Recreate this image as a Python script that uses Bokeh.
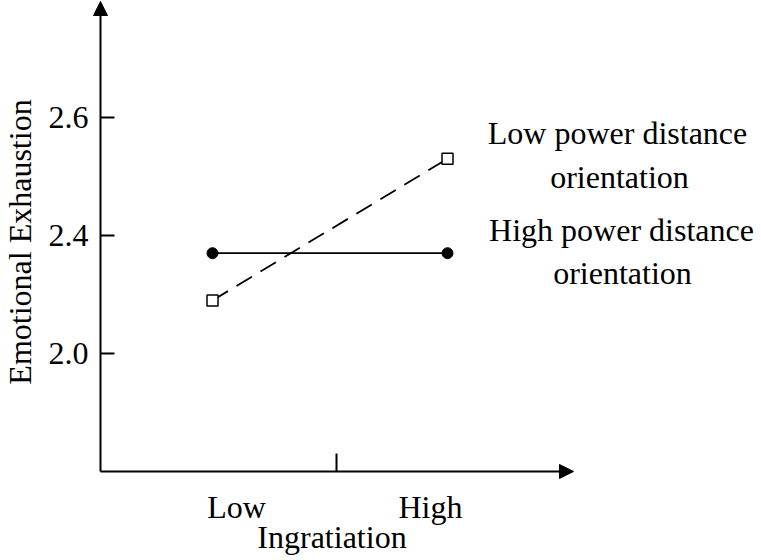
import math
from bokeh.plotting import figure
from bokeh.models import Range1d, FixedTicker, Label, Arrow, NormalHead, CustomJSTickFormatter
from bokeh.embed import file_html
from bokeh.resources import INLINE

# ---- data ----
ingratiation_levels = ["Low", "High"]
x_pos = [0, 1]
low_pd = [2.29, 2.53]     # Low power distance orientation (dashed, open squares)
high_pd = [2.37, 2.37]    # High power distance orientation (solid, filled circles)
y_ticks = [2.2, 2.4, 2.6]
y_tick_labels = ["2.0", "2.4", "2.6"]
mid_tick = [0.528]
series_lines = [["Low power distance", "orientation"],
                ["High power distance", "orientation"]]
x_title = "Ingratiation"
y_title = "Emotional Exhaustion"

FONT = "Liberation Serif"
FS = "32px"

# plotting window (frame covers the whole figure)
x0, x1 = -0.90213, 2.33191
y0, y1 = 1.85254, 2.79831
# where the two axes cross, and where the arrows end
ax_x = -0.4766
ax_y = 2.0
x_tip = 1.5362
y_tip = 2.7966

p = figure(width=760, height=558,
           x_range=Range1d(x0, x1), y_range=Range1d(y0, y1),
           output_backend="svg", toolbar_location=None,
           min_border=0, min_border_left=0, min_border_right=0,
           min_border_top=0, min_border_bottom=0)
p.outline_line_color = None
p.grid.visible = False
p.background_fill_color = "white"
p.border_fill_color = "white"

# y axis (placed inside the frame)
ya = p.yaxis[0]
ya.fixed_location = ax_x
ya.ticker = FixedTicker(ticks=y_ticks)
ya.major_label_overrides = dict(zip(y_ticks, y_tick_labels))
ya.major_tick_in = 14
ya.major_tick_out = 0
ya.minor_tick_line_color = None
ya.axis_line_color = None
ya.major_tick_line_width = 2
ya.major_label_standoff = 12
ya.major_label_text_font = FONT
ya.major_label_text_font_size = FS
ya.major_label_text_color = "black"

# x axis (placed inside the frame)
xa = p.xaxis[0]
xa.fixed_location = ax_y
xa.ticker = FixedTicker(ticks=mid_tick)
xa.formatter = CustomJSTickFormatter(code="return ''")
xa.major_tick_in = 18
xa.major_tick_out = 0
xa.minor_tick_line_color = None
xa.axis_line_color = None
xa.major_tick_line_width = 2
xa.major_label_text_font_size = "1px"

# axis lines with arrow heads
p.add_layout(Arrow(end=NormalHead(size=14, fill_color="black", line_color="black"),
                   x_start=ax_x, y_start=ax_y, x_end=ax_x, y_end=y_tip,
                   line_color="black", line_width=2))
p.add_layout(Arrow(end=NormalHead(size=14, fill_color="black", line_color="black"),
                   x_start=ax_x, y_start=ax_y, x_end=x_tip, y_end=ax_y,
                   line_color="black", line_width=2))

# series
p.line(x_pos, low_pd, line_color="black", line_width=1.8, line_dash="18 10")
p.line(x_pos, high_pd, line_color="black", line_width=1.8)
p.scatter(x_pos, low_pd, marker="square", size=11, fill_color="white",
          line_color="black", line_width=1.5)
p.scatter(x_pos, high_pd, marker="circle", size=11, fill_color="black",
          line_color="black")

def txt(x, y, t, **kw):
    p.add_layout(Label(x=x, y=y, text=t, text_font=FONT, text_font_size=FS,
                       text_color="black", text_align="center",
                       text_baseline="alphabetic", **kw))

# category names under the x axis
for xv, name, dx in zip(x_pos, ingratiation_levels, [24, -17]):
    txt(xv, ax_y, name, x_offset=dx, y_offset=-36)

# axis titles
txt(0.5085, 1.88899, x_title)
txt(-0.8192, 2.38898, y_title, angle=math.pi / 2)

# series names on the right
label_pos = [([1.7234, 1.7319], [2.57373, 2.49916]),
             ([1.7404, 1.7447], [2.40933, 2.33644])]
for (lxs, lys), lines in zip(label_pos, series_lines):
    for lx, ly, t in zip(lxs, lys, lines):
        txt(lx, ly, t)

open("out.html", "w").write(file_html(p, INLINE))
